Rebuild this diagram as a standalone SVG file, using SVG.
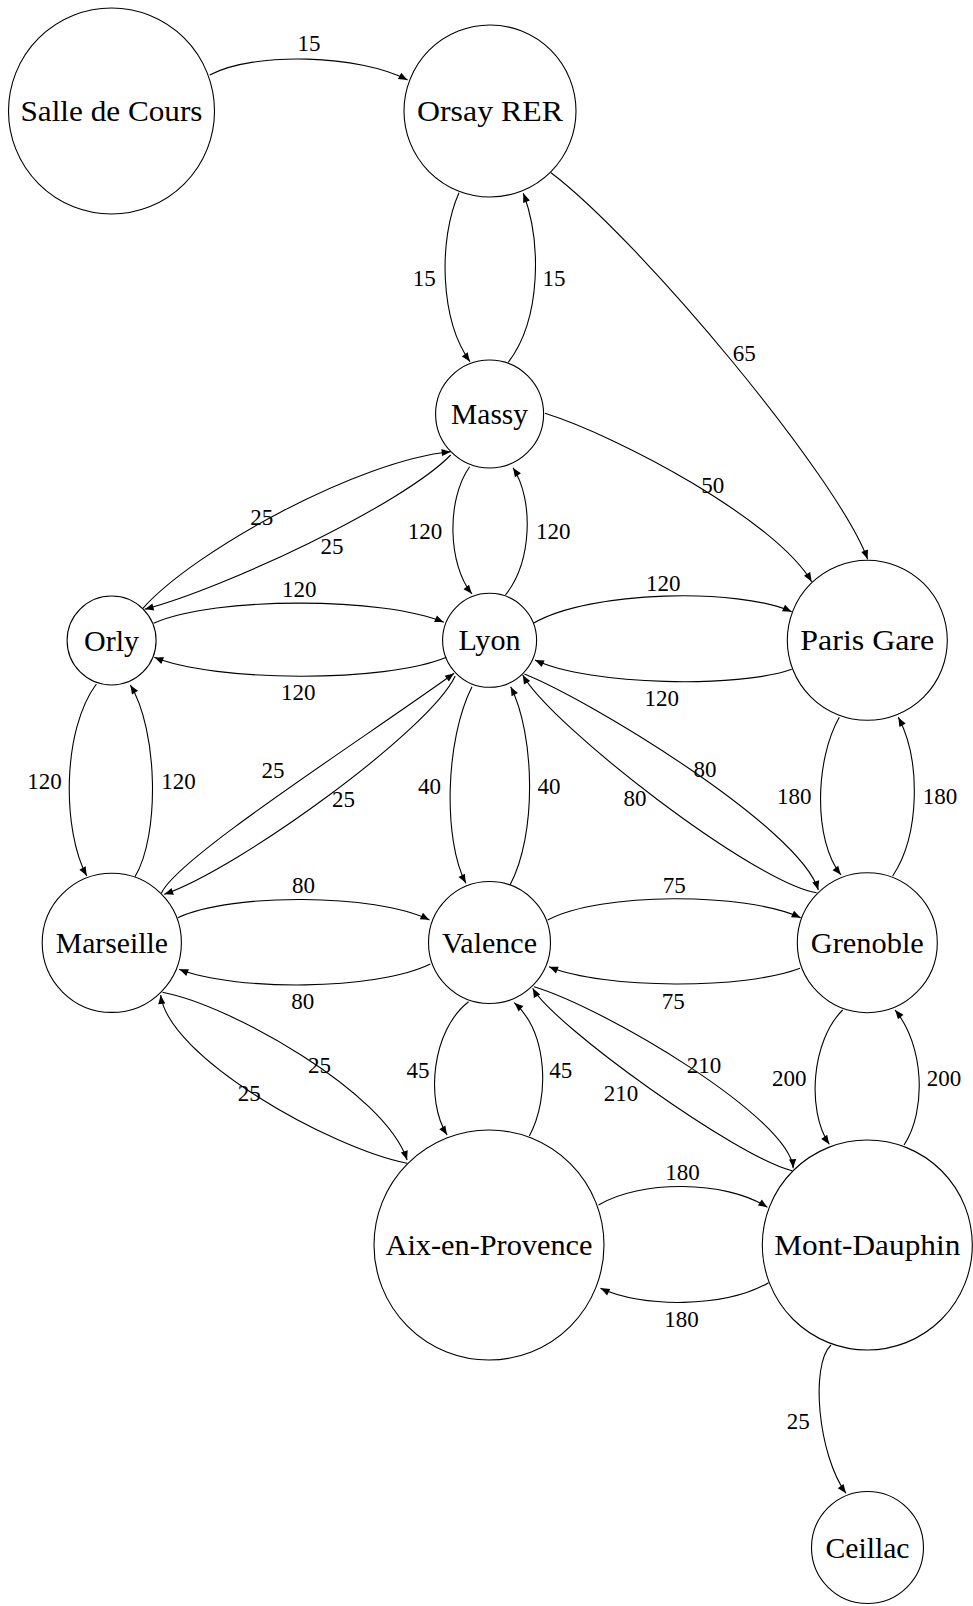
<svg xmlns="http://www.w3.org/2000/svg" width="973" height="1606" viewBox="0 0 973 1606">
<style>
.node circle{fill:none;stroke:#000;stroke-width:1.1}
.node text{font-size:30px;text-anchor:middle;fill:#000}
.edge path{fill:none;stroke:#000;stroke-width:1.1;marker-end:url(#arr)}
.edge text{font-size:23px;text-anchor:middle;fill:#000}
</style>
<defs>
<marker id="arr" viewBox="-10 -5 11 10" refX="0" refY="0" markerWidth="11" markerHeight="10" markerUnits="userSpaceOnUse" orient="auto">
<path d="M0,0 C-3,-1 -6,-2.4 -9,-3.6 L-9,3.6 C-6,2.4 -3,1 0,0 Z" fill="#000"/>
</marker>
</defs>
<rect x="0" y="0" width="973" height="1606" fill="#fff"/>
<g id="nodes" font-family="Liberation Serif, DejaVu Serif, serif">
<g id="salle" class="node"><circle cx="111.5" cy="111" r="103"/><text x="111.5" y="121" textLength="182" lengthAdjust="spacingAndGlyphs">Salle de Cours</text></g>
<g id="orsay" class="node"><circle cx="490" cy="111" r="86"/><text x="490" y="121" textLength="146" lengthAdjust="spacingAndGlyphs">Orsay RER</text></g>
<g id="massy" class="node"><circle cx="489.6" cy="414" r="54"/><text x="489.6" y="424" textLength="77" lengthAdjust="spacingAndGlyphs">Massy</text></g>
<g id="orly" class="node"><circle cx="111.6" cy="640.5" r="44.5"/><text x="111.6" y="650.5" textLength="55" lengthAdjust="spacingAndGlyphs">Orly</text></g>
<g id="lyon" class="node"><circle cx="489.6" cy="640.3" r="47"/><text x="489.6" y="650.3" textLength="62" lengthAdjust="spacingAndGlyphs">Lyon</text></g>
<g id="paris" class="node"><circle cx="867.3" cy="640.3" r="80"/><text x="867.3" y="650.3" textLength="134" lengthAdjust="spacingAndGlyphs">Paris Gare</text></g>
<g id="marseille" class="node"><circle cx="111.8" cy="942.8" r="69.6"/><text x="111.8" y="952.8" textLength="112" lengthAdjust="spacingAndGlyphs">Marseille</text></g>
<g id="valence" class="node"><circle cx="489.5" cy="942.5" r="61"/><text x="489.5" y="952.5" textLength="95" lengthAdjust="spacingAndGlyphs">Valence</text></g>
<g id="grenoble" class="node"><circle cx="867.3" cy="942.7" r="70"/><text x="867.3" y="952.7" textLength="113" lengthAdjust="spacingAndGlyphs">Grenoble</text></g>
<g id="aix" class="node"><circle cx="489" cy="1245" r="115"/><text x="489" y="1255" textLength="207" lengthAdjust="spacingAndGlyphs">Aix-en-Provence</text></g>
<g id="montdauphin" class="node"><circle cx="867.3" cy="1245" r="105"/><text x="867.3" y="1255" textLength="186" lengthAdjust="spacingAndGlyphs">Mont-Dauphin</text></g>
<g id="ceillac" class="node"><circle cx="867.5" cy="1547.5" r="56"/><text x="867.5" y="1557.5" textLength="84" lengthAdjust="spacingAndGlyphs">Ceillac</text></g>
</g>
<g id="connectors" font-family="Liberation Serif, DejaVu Serif, serif">
<g class="edge"><path d="M209.7,75 C255,51 360,55 407.6,80"/><text x="309" y="51">15</text></g>
<g class="edge"><path d="M459,192.7 C438,240 440,320 470,361.7"/><text x="424.3" y="285.7">15</text></g>
<g class="edge"><path d="M508.3,362.3 C542,318 541,240 523.3,193.3"/><text x="554" y="285.7">15</text></g>
<g class="edge"><path d="M551,172.7 C640,240 837.7,477.3 867.7,559.3"/><text x="744.3" y="360.7">65</text></g>
<g class="edge"><path d="M545,413.3 C620,437 775,520 811.7,581.7"/><text x="712.7" y="493">50</text></g>
<g class="edge"><path d="M142.9,608.3 C195,550 360,460 450.7,451.7"/><text x="261.8" y="524.7">25</text></g>
<g class="edge"><path d="M450.7,455 C402,505 225,588 144.6,609.3"/><text x="332" y="554">25</text></g>
<g class="edge"><path d="M469.6,466.7 C446,500 448,565 472,594"/><text x="425" y="539">120</text></g>
<g class="edge"><path d="M505.4,595 C532,562 534,500 513,467.7"/><text x="553.3" y="539">120</text></g>
<g class="edge"><path d="M153.6,623.3 C215,596 385,597 443.8,622.3"/><text x="299.2" y="597">120</text></g>
<g class="edge"><path d="M446.4,657.3 C385,683 215,682 154.3,657.3"/><text x="298.2" y="699.7">120</text></g>
<g class="edge"><path d="M533.3,623.3 C590,590 740,588 791.7,611.7"/><text x="663.3" y="590.7">120</text></g>
<g class="edge"><path d="M791.7,669.3 C740,688 590,686 535,660"/><text x="661.7" y="705.7">120</text></g>
<g class="edge"><path d="M96.4,684 C62,730 62,830 86.8,876"/><text x="44.6" y="788.7">120</text></g>
<g class="edge"><path d="M135,876.7 C160,835 158,730 130.3,685"/><text x="178.5" y="788.7">120</text></g>
<g class="edge"><path d="M161.4,893.3 C176.4,858.3 364.1,738.3 454.1,673.3"/><text x="273" y="778">25</text></g>
<g class="edge"><path d="M455.2,676 C430,730 240,868 164.2,894.3"/><text x="343.4" y="807.3">25</text></g>
<g class="edge"><path d="M472,686.7 C445,740 443,840 465.9,883.3"/><text x="429.5" y="794">40</text></g>
<g class="edge"><path d="M510,885 C537,835 535,735 510.7,686.7"/><text x="549" y="794">40</text></g>
<g class="edge"><path d="M524.3,674 C590,700 800,828 818.3,890"/><text x="705" y="777.3">80</text></g>
<g class="edge"><path d="M816.7,892.7 C755.2,883.5 551.2,725.8 522.7,675"/><text x="635" y="806.3">80</text></g>
<g class="edge"><path d="M839.3,717.3 C815,760 813,840 841,875"/><text x="794.3" y="804">180</text></g>
<g class="edge"><path d="M892.7,876 C920,835 921,760 898.3,717.3"/><text x="940" y="804">180</text></g>
<g class="edge"><path d="M177.8,917.7 C230,893 375,893 429.5,920"/><text x="303.5" y="893">80</text></g>
<g class="edge"><path d="M430.3,964 C375,991 235,991 179.2,969.3"/><text x="302.8" y="1008.7">80</text></g>
<g class="edge"><path d="M547.7,920 C600,892 745,892 800.7,917.7"/><text x="674.3" y="893">75</text></g>
<g class="edge"><path d="M800,968.3 C745,989.5 605,989.5 549,966.7"/><text x="673.3" y="1008.7">75</text></g>
<g class="edge"><path d="M162.5,992.3 C230,1005 385,1092 407.1,1160"/><text x="319.6" y="1073">25</text></g>
<g class="edge"><path d="M407.1,1163.3 C330,1148 168,1057 160.7,995"/><text x="249.3" y="1100.7">25</text></g>
<g class="edge"><path d="M468.6,1001.7 C432,1030 425,1100 447.1,1135"/><text x="417.9" y="1078">45</text></g>
<g class="edge"><path d="M529.3,1136 C550,1098 548,1033 514.3,1002.7"/><text x="560.7" y="1078">45</text></g>
<g class="edge"><path d="M534,986.7 C605,1008 790,1118 793.2,1168.3"/><text x="704" y="1073">210</text></g>
<g class="edge"><path d="M792,1170.7 C738,1158 553,1025 532.7,988.3"/><text x="621" y="1101.3">210</text></g>
<g class="edge"><path d="M842.7,1010 C812,1040 806,1110 829.3,1144.3"/><text x="789.3" y="1086.3">200</text></g>
<g class="edge"><path d="M904,1145 C927,1110 924,1045 895,1010"/><text x="944" y="1086.3">200</text></g>
<g class="edge"><path d="M598.5,1205 C640,1180 725,1180 767.4,1207.3"/><text x="682.6" y="1179.7">180</text></g>
<g class="edge"><path d="M768.6,1282.7 C725,1308 642,1308 600.5,1288.3"/><text x="681.4" y="1327.3">180</text></g>
<g class="edge"><path d="M831,1345 C810,1365 818,1455 846,1493.3"/><text x="798.3" y="1428.7">25</text></g>
</g>
</svg>
